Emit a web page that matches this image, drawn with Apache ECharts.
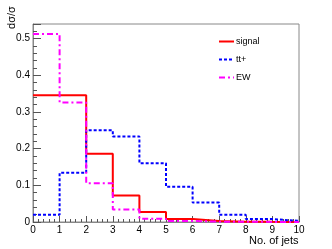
<!DOCTYPE html>
<html><head><meta charset="utf-8">
<script src="https://cdn.jsdelivr.net/npm/echarts@6/dist/echarts.min.js"></script>
<style>html,body{margin:0;padding:0;background:#fff}#c{width:332px;height:249px}</style>
</head><body><div id="c"></div>
<script>
var binEdges = [0,1,2,3,4,5,6,7,8,9,10];
var signal = [0.346,0.346,0.186,0.072,0.027,0.008,0.003,0.001,0.0005,0.0003];
var ttjets = [0.020,0.134,0.250,0.233,0.160,0.096,0.053,0.020,0.008,0.003];
var ew     = [0.513,0.326,0.106,0.034,0.009,0.003,0.001,0.0005,0.0003,0.0002];
var yTicks = [0,0.1,0.2,0.3,0.4,0.5];

function stepData(v){
  var d = [];
  for (var i=0;i<v.length;i++) d.push([binEdges[i], v[i]]);
  d.push([binEdges[v.length], v[v.length-1]]);
  return d;
}
var font = 'Liberation Sans, Arial, sans-serif';
var chart = echarts.init(document.getElementById('c'), null, {renderer:'canvas'});
chart.setOption({
  animation:false,
  grid:[
    {left:33,right:33,top:24,bottom:27,show:true,borderColor:'#888',borderWidth:1},
    {left:33,width:10,top:6,height:23,show:false}
  ],
  legend:{
    orient:'vertical', left:213, top:32, itemGap:9, itemWidth:15, itemHeight:8,
    itemStyle:{opacity:0},
    textStyle:{fontFamily:font,fontSize:9,color:'#000',padding:[0,0,0,-3]},
    data:['signal','tt+','EW']
  },
  xAxis:[{
    type:'value', min:0, max:10, interval:1, gridIndex:0,
    axisLine:{onZero:false,lineStyle:{color:'#888',width:1}},
    axisTick:{inside:true,length:6,lineStyle:{color:'#555'}},
    minorTick:{show:true,splitNumber:5,length:3,lineStyle:{color:'#555'}},
    splitLine:{show:false},
    axisLabel:{fontFamily:font,fontSize:10,color:'#000',margin:3}
  },{
    type:'value', gridIndex:1, show:false, min:0, max:1
  }],
  yAxis:[{
    type:'value', min:0, max:0.54, interval:0.1, gridIndex:0,
    axisLine:{show:true,lineStyle:{color:'#888',width:1}},
    axisTick:{inside:true,length:8,lineStyle:{color:'#555'}},
    minorTick:{show:true,splitNumber:5,length:4,lineStyle:{color:'#555'}},
    splitLine:{show:false},
    axisLabel:{fontFamily:font,fontSize:10,color:'#000',margin:3,
      customValues:yTicks,
      formatter:function(v){return v===0?'0':v.toFixed(1);}}
  },{
    type:'value', gridIndex:1, min:0, max:1,
    name:'dσ/σ', nameLocation:'middle', nameGap:16,
    nameTextStyle:{fontFamily:font,fontSize:11,color:'#000'},
    axisLine:{show:false}, axisTick:{show:false}, axisLabel:{show:false}, splitLine:{show:false}
  }],
  graphic:[
    {type:'text',left:249,top:235,style:{text:'No. of jets',font:'11px '+font,fill:'#000'}}
  ],
  series:[
    {name:'signal',type:'line',step:'end',symbol:'none',data:stepData(signal),
     lineStyle:{color:'#ff0000',width:2},itemStyle:{color:'#ff0000'}},
    {name:'tt+',type:'line',step:'end',symbol:'none',data:stepData(ttjets),
     lineStyle:{color:'#0000ff',width:2,type:[3,2]},itemStyle:{color:'#0000ff'}},
    {name:'EW',type:'line',step:'end',symbol:'none',data:stepData(ew),
     lineStyle:{color:'#ff00ff',width:2,type:[6,3,2,3]},itemStyle:{color:'#ff00ff'}}
  ]
});
</script></body></html>
